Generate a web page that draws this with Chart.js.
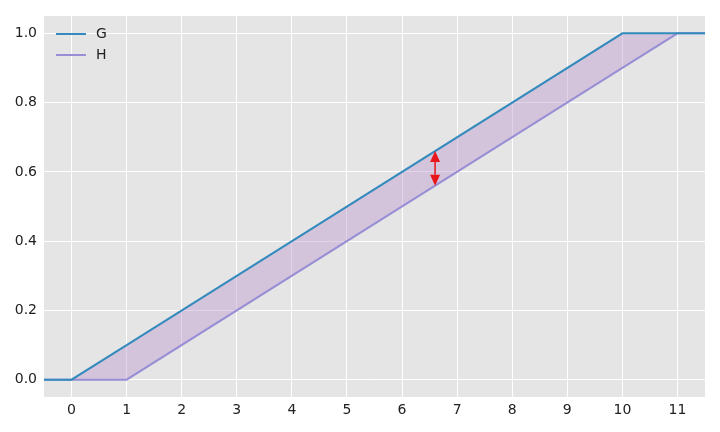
<!DOCTYPE html>
<html>
<head>
<meta charset="utf-8">
<script src="https://cdn.jsdelivr.net/npm/chart.js@4/dist/chart.umd.min.js"></script>
<style>
  html, body { margin: 0; padding: 0; background: #fff; }
  #wrap { width: 720px; height: 432px; }
</style>
</head>
<body>
<div id="wrap"><canvas id="cdfChart"></canvas></div>
<script>
// x points shared by both curves
const xs = [-0.5, 0, 1, 10, 11, 11.5]
const gVals = [0, 0, 0.1, 1, 1, 1]
const hVals = [0, 0, 0, 0.9, 1, 1]
const xTicks = [0, 1, 2, 3, 4, 5, 6, 7, 8, 9, 10, 11]
const yTicks = [0, 0.2, 0.4, 0.6, 0.8, 1.0]
// red arrow: x position and the two ends
const arrowX = 6.6
const arrowEnds = [0.66, 0.56]

const toPoints = vals => vals.map((v, i) => ({ x: xs[i], y: v }))

const bgPlugin = {
  id: "bg",
  beforeDraw(chart) {
    const { ctx, chartArea: a } = chart
    ctx.save()
    ctx.fillStyle = "#e5e5e5"
    ctx.fillRect(a.left, a.top, a.right - a.left, a.bottom - a.top)
    ctx.restore()
  }
}

// legend drawn inside the plot, top left, like matplotlib
const legendPlugin = {
  id: "innerLegend",
  afterDraw(chart) {
    const { ctx, chartArea: a } = chart
    ctx.save()
    ctx.font = "14px 'DejaVu Sans'"
    ctx.textBaseline = "middle"
    chart.data.datasets.forEach((d, i) => {
      const y = a.top + 18 + i * 21
      ctx.strokeStyle = d.borderColor
      ctx.lineWidth = 2
      ctx.beginPath()
      ctx.moveTo(a.left + 12, y)
      ctx.lineTo(a.left + 42, y)
      ctx.stroke()
      ctx.fillStyle = "#222"
      ctx.fillText(d.label, a.left + 52, y)
    })
    ctx.restore()
  }
}

const arrowPlugin = {
  id: "arrow",
  afterDatasetsDraw(chart) {
    const { ctx, scales } = chart
    const px = scales.x.getPixelForValue(arrowX)
    const yTop = scales.y.getPixelForValue(arrowEnds[0])
    const yBot = scales.y.getPixelForValue(arrowEnds[1])
    const head = 11, half = 5
    ctx.save()
    ctx.strokeStyle = "#e8151b"
    ctx.fillStyle = "#e8151b"
    ctx.lineWidth = 1.5
    ctx.beginPath()
    ctx.moveTo(px, yTop + head)
    ctx.lineTo(px, yBot - head)
    ctx.stroke()
    ctx.beginPath()
    ctx.moveTo(px, yTop)
    ctx.lineTo(px - half, yTop + head)
    ctx.lineTo(px + half, yTop + head)
    ctx.closePath()
    ctx.fill()
    ctx.beginPath()
    ctx.moveTo(px, yBot)
    ctx.lineTo(px - half, yBot - head)
    ctx.lineTo(px + half, yBot - head)
    ctx.closePath()
    ctx.fill()
    ctx.restore()
  }
}

new Chart(document.getElementById("cdfChart"), {
  type: "line",
  data: {
    datasets: [
      {
        label: "G",
        data: toPoints(gVals),
        borderColor: "#348abd",
        borderWidth: 2,
        pointRadius: 0,
        fill: false,
        tension: 0
      },
      {
        label: "H",
        data: toPoints(hVals),
        borderColor: "#988ed5",
        backgroundColor: "rgba(185,150,205,0.42)",
        borderWidth: 2,
        pointRadius: 0,
        fill: "-1",
        tension: 0
      }
    ]
  },
  options: {
    responsive: true,
    maintainAspectRatio: false,
    animation: false,
    layout: { padding: { top: 16, right: 15, left: 0, bottom: 0 } },
    plugins: {
      legend: { display: false },
      tooltip: { enabled: false },
      filler: { drawTime: "beforeDatasetsDraw" }
    },
    scales: {
      x: {
        type: "linear",
        min: -0.5,
        max: 11.5,
        afterBuildTicks: s => { s.ticks = xTicks.map(v => ({ value: v })) },
        grid: { color: "#ffffff", lineWidth: 1, tickLength: 0, drawTicks: false },
        border: { display: false },
        ticks: {
          font: { family: "DejaVu Sans", size: 14 },
          color: "#222",
          padding: 5,
          maxRotation: 0,
          callback: v => String(v)
        },
        afterFit: s => { s.height = 35 }
      },
      y: {
        min: -0.05,
        max: 1.05,
        afterBuildTicks: s => { s.ticks = yTicks.map(v => ({ value: v })) },
        grid: { color: "#ffffff", lineWidth: 1, tickLength: 0, drawTicks: false },
        border: { display: false },
        ticks: {
          font: { family: "DejaVu Sans", size: 14 },
          color: "#222",
          padding: 7,
          callback: v => v.toFixed(1)
        },
        afterFit: s => { s.width = 44 }
      }
    }
  },
  plugins: [bgPlugin, arrowPlugin, legendPlugin]
})
</script>
</body>
</html>
